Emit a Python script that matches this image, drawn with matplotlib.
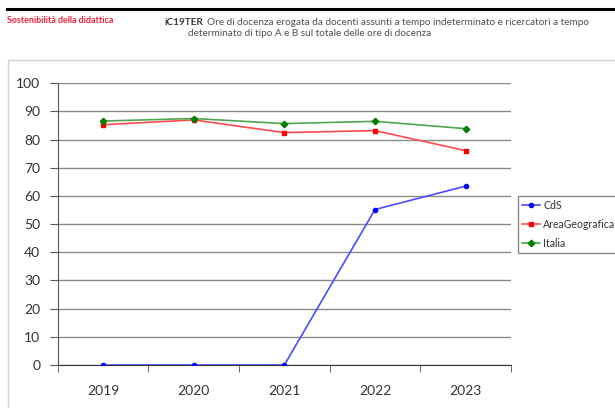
import matplotlib
matplotlib.use('Agg')
import matplotlib.pyplot as plt
from matplotlib.patches import Rectangle
from matplotlib.lines import Line2D

years = ['2019', '2020', '2021', '2022', '2023']
cds = [0, 0, 0, 55.2, 63.5]
area = [85.3, 87.0, 82.5, 83.2, 76.1]
italia = [86.6, 87.5, 85.7, 86.5, 83.9]
series_names = ['CdS', 'AreaGeografica', 'Italia']
yticks = list(range(0, 101, 10))
header = 'Sostenibilità della didattica'
title_code = 'iC19TER'
title_l1 = 'Ore di docenza erogata da docenti assunti a tempo indeterminato e ricercatori a tempo'
title_l2 = 'determinato di tipo A e B sul totale delle ore di docenza'

W, H = 615, 408
fig = plt.figure(figsize=(W / 100, H / 100), dpi=100)
fig.patch.set_facecolor('white')
FONT = 'Lato'


def fx(px):
    return px / W


def fy(py):
    return 1 - py / H


renderer = fig.canvas.get_renderer()

# top black rule
fig.add_artist(Line2D([fx(7), fx(616)], [fy(9), fy(9)], color='black', lw=2.2))
# chart frame
fig.add_artist(Rectangle((fx(8), fy(430)), fx(700) - fx(8), fy(60) - fy(430),
                         fill=False, edgecolor='#d2d2d2', lw=1.0))

# red header, fitted to width
t = fig.text(fx(7), fy(20.7), header, ha='left', va='center', fontsize=10,
             color='#f5203a', fontweight='bold', family=FONT)
w = t.get_window_extent(renderer).width
t.set_fontsize(10 * 106 / w)

# title
tb = fig.text(fx(165), fy(22.7), title_code, ha='left', va='center', fontsize=10,
              color='#3a3a3a', fontweight='bold', family=FONT)
tr = fig.text(fx(0), fy(22.7), title_l1, ha='left', va='center', fontsize=10,
              color='#505050', family=FONT)
wb = tb.get_window_extent(renderer).width
wr = tr.get_window_extent(renderer).width
scale = (426 - 3) / (wb + wr)
fs = 10 * scale
tb.set_fontsize(fs)
tr.set_fontsize(fs)
wb2 = tb.get_window_extent(renderer).width
tr.set_x(fx(165 + wb2 + 3))
fig.text(fx(188), fy(33.7), title_l2, ha='left', va='center', fontsize=fs,
         color='#505050', family=FONT)

# axes
ax = fig.add_axes([fx(57.7), fy(365), fx(511) - fx(57.7), fy(83.3) - fy(365)])
x = list(range(len(years)))
ax.plot(x, cds, color='#4b4bff', lw=1.2, marker='o', ms=3, mfc='#0000ff', mec='#0000ff',
        label=series_names[0], zorder=3)
ax.plot(x, area, color='#ff4b4b', lw=1.2, marker='s', ms=2.8, mfc='#ff0000', mec='#ff0000',
        label=series_names[1], zorder=3)
ax.plot(x, italia, color='#4ea64e', lw=1.2, marker='D', ms=3.3, mfc='#008000', mec='#008000',
        label=series_names[2], zorder=3)
ax.set_xlim(-0.5, len(years) - 0.5)
ax.set_ylim(0, 100)
ax.set_yticks(yticks)
ax.grid(axis='y', color='#8a8a8a', lw=1.0)
ax.set_axisbelow(True)
for s in ['top', 'right']:
    ax.spines[s].set_visible(False)
ax.spines['left'].set_color('#555555')
ax.spines['bottom'].set_color('#333333')
ax.set_xticks(x)
ax.set_xticklabels(years)
ax.set_xticks([i - 0.5 for i in range(len(years) + 1)], minor=True)
ax.tick_params(axis='x', which='major', length=0, pad=14.4, labelsize=10, labelcolor='#333333')
ax.tick_params(axis='x', which='minor', length=5, direction='out', color='#555555')
ax.tick_params(axis='y', length=6, color='#555555', pad=6.5, labelsize=10, labelcolor='#333333')
for lab in ax.get_xticklabels() + ax.get_yticklabels():
    lab.set_family(FONT)

leg = fig.legend(loc='upper left', bbox_to_anchor=(fx(517.7), fy(196)), borderaxespad=0,
                 frameon=True, fancybox=False, edgecolor='#888888', framealpha=1,
                 prop={'family': FONT, 'size': 7.6}, handlelength=1.7, handletextpad=0.35,
                 borderpad=0.38, labelspacing=0.75)
leg.get_frame().set_linewidth(1.0)
for txt in leg.get_texts():
    txt.set_color('#333333')

fig.savefig('out.png', dpi=100)
